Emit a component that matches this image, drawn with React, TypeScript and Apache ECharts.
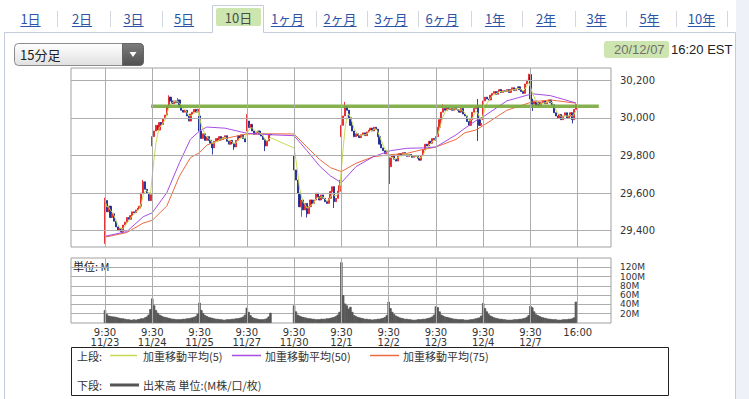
import React, { useEffect, useRef } from 'react';
import * as echarts from 'echarts';

// ---------------- data ----------------
const dayLabels = ['11/23', '11/24', '11/25', '11/27', '11/30', '12/1', '12/2', '12/3', '12/4', '12/7'];
const openTimeLabel = '9:30';
const closeTimeLabel = '16:00';
const slotsPerDay = 26;

const dayOpens = [29345, 29850, 30010, 29930, 29800, 29900, 29650, 29880, 29990, 30230];

const close1123 = [29560, 29500, 29530, 29470, 29490, 29450, 29420, 29400, 29410, 29395, 29430, 29445, 29470, 29460, 29480, 29500, 29495, 29510, 29520, 29530, 29600, 29660, 29620, 29600, 29560, 29591];
const close1124 = [29900, 29930, 29960, 29935, 29975, 29965, 29995, 30015, 30063, 30110, 30090, 30075, 30090, 30080, 30095, 30060, 30040, 30030, 30040, 30010, 29983, 30020, 30030, 30045, 30030, 30046];
const close1125 = [29930, 29890, 29915, 29880, 29900, 29880, 29865, 29840, 29875, 29890, 29880, 29900, 29885, 29895, 29905, 29875, 29860, 29880, 29865, 29845, 29880, 29905, 29895, 29910, 29890, 29872];
const close1127 = [29983, 29948, 29965, 29930, 29912, 29921, 29930, 29912, 29903, 29885, 29850, 29877, 29912, 29910];
const close1130 = [29723, 29669, 29599, 29527, 29563, 29510, 29545, 29490, 29527, 29563, 29545, 29563, 29599, 29580, 29563, 29590, 29572, 29554, 29545, 29572, 29608, 29634, 29554, 29572, 29610, 29639];
const close1201 = [29960, 30010, 30060, 30040, 30000, 29960, 29930, 29900, 29915, 29905, 29895, 29910, 29920, 29905, 29925, 29935, 29945, 29930, 29950, 29940, 29900, 29860, 29840, 29825, 29810, 29824];
const close1202 = [29740, 29790, 29800, 29780, 29770, 29805, 29810, 29800, 29815, 29805, 29795, 29805, 29800, 29790, 29800, 29795, 29785, 29775, 29800, 29830, 29860, 29850, 29875, 29865, 29890, 29884];
const close1203 = [29900, 29950, 29990, 30030, 30050, 30040, 30055, 30045, 30050, 30040, 30055, 30045, 30040, 30030, 30050, 30020, 30010, 29980, 29960, 29990, 30030, 30050, 30060, 29990, 29960, 29970];
const close1204 = [30090, 30110, 30100, 30095, 30120, 30130, 30140, 30125, 30140, 30150, 30135, 30145, 30140, 30150, 30135, 30150, 30160, 30145, 30155, 30165, 30150, 30140, 30130, 30180, 30200, 30218];
const close1207 = [30100, 30072, 30090, 30063, 30080, 30065, 30080, 30090, 30075, 30085, 30095, 30080, 30070, 30027, 30010, 30000, 30018, 29990, 30010, 30027, 30000, 30010, 30027, 29990, 30045, 30070];
const closesByDay = [close1123, close1124, close1125, close1127, close1130, close1201, close1202, close1203, close1204, close1207];

// [day, bar, value] long wicks
const wickHighs = [[0, 0, 29575], [0, 21, 29670], [1, 9, 30120], [1, 14, 30105], [3, 0, 30019], [4, 25, 29670], [5, 2, 30085], [7, 4, 30072], [7, 23, 30100], [8, 25, 30235], [9, 0, 30240]];
const wickLows = [[0, 0, 29330], [0, 9, 29385], [2, 7, 29805], [2, 19, 29830], [3, 10, 29823], [4, 4, 29474], [4, 7, 29470], [4, 22, 29520], [6, 0, 29600], [7, 23, 29877], [9, 1, 30036], [9, 23, 29970]];

// weighted moving averages 50 / 75 (slot, value)
const maSlots = [0, 12, 21, 26, 34, 41, 47, 52, 56, 66, 78, 91, 104, 111, 118, 124, 130, 138, 147.5, 157, 166, 175, 182, 193, 198, 204, 209, 221, 235, 245, 259];
const ma50Values = [29370, 29395, 29474, 29495, 29602, 29762, 29886, 29930, 29951, 29945, 29918, 29910, 29905, 29826, 29744, 29691, 29655, 29740, 29793, 29825, 29838, 29840, 29845, 29909, 29945, 29985, 30012, 30090, 30128, 30118, 30079];
const ma75Values = [29365, 29390, 29440, 29455, 29531, 29691, 29788, 29815, 29855, 29890, 29914, 29915, 29914, 29845, 29779, 29735, 29714, 29758, 29793, 29804, 29811, 29832, 29845, 29885, 29921, 29935, 29965, 30040, 30085, 30095, 30078];

// horizontal reference line
const refLevel = 30062;
const refFromSlot = 25.3;
const refToSlot = 271.6;

// volume (M)
const vol1123 = [28, 19, 16, 15, 14, 14, 13, 12, 11, 10, 10, 9, 8, 8, 7, 7, 8, 7, 8, 9, 10, 10, 12, 14, 18, 30];
const vol1124 = [53, 38, 28, 22, 18, 16, 14, 13, 12, 11, 10, 9, 9, 8, 8, 8, 8, 9, 9, 10, 10, 11, 12, 13, 15, 20];
const vol1125 = [44, 28, 21, 17, 15, 13, 12, 11, 10, 9, 9, 8, 8, 7, 7, 8, 8, 8, 9, 9, 10, 10, 11, 12, 14, 18];
const vol1127 = [33, 24, 17, 13, 11, 10, 9, 8, 8, 8, 9, 10, 14, 22];
const vol1130 = [38, 25, 18, 16, 14, 13, 12, 11, 10, 10, 9, 9, 8, 8, 8, 9, 9, 9, 10, 10, 11, 12, 13, 15, 18, 24];
const vol1201 = [131, 60, 42, 38, 31, 35, 24, 17, 15, 13, 12, 11, 10, 9, 9, 8, 8, 7, 8, 8, 9, 9, 10, 11, 13, 17];
const vol1202 = [46, 32, 24, 19, 16, 14, 12, 11, 10, 9, 9, 8, 8, 7, 7, 7, 8, 8, 8, 9, 9, 10, 11, 12, 14, 18];
const vol1203 = [36, 34, 25, 18, 16, 14, 13, 12, 11, 10, 9, 9, 8, 8, 8, 8, 7, 7, 7, 8, 8, 9, 10, 11, 12, 16];
const vol1204 = [43, 32, 25, 19, 16, 14, 12, 11, 10, 9, 9, 8, 8, 7, 7, 7, 7, 8, 8, 8, 9, 9, 10, 11, 13, 17];
const vol1207 = [37, 34, 25, 19, 17, 15, 13, 12, 11, 10, 9, 9, 8, 8, 8, 7, 7, 7, 8, 8, 8, 9, 9, 10, 12, 46];
const volumesByDay = [vol1123, vol1124, vol1125, vol1127, vol1130, vol1201, vol1202, vol1203, vol1204, vol1207];

const priceTicks = [29400, 29600, 29800, 30000, 30200];
const volumeTicks = [20, 40, 60, 80, 100, 120];

const tabs = ['1日', '2日', '3日', '5日', '10日', '1ヶ月', '2ヶ月', '3ヶ月', '6ヶ月', '1年', '2年', '3年', '5年', '10年'];
const selectedTab = '10日';
const intervalLabel = '15分足';
const stampDate = '20/12/07';
const stampTime = '16:20 EST';
const volumeUnitLabel = '単位: M';
const legendUpperTitle = '上段:';
const legendLowerTitle = '下段:';
const maLegend = ['加重移動平均(5)', '加重移動平均(50)', '加重移動平均(75)'];
const volumeLegend = '出来高 単位:(M株/口/枚)';

// ---------------- build ----------------
const daySlots = dayLabels.map((_, d) => d * slotsPerDay).concat([dayLabels.length * slotsPerDay]);

function buildCandles() {
  const out: number[][] = [];
  const closesFlat: number[] = [];
  const slotsFlat: number[] = [];
  closesByDay.forEach((closes, d) => {
    closes.forEach((c, i) => {
      const o = i === 0 ? dayOpens[d] : closes[i - 1];
      let lo = Math.min(o, c);
      let hi = Math.max(o, c);
      wickHighs.forEach(([wd, wi, v]) => { if (wd === d && wi === i) hi = Math.max(hi, v); });
      wickLows.forEach(([wd, wi, v]) => { if (wd === d && wi === i) lo = Math.min(lo, v); });
      const u = d * slotsPerDay + i;
      out.push([u, o, c, lo, hi]);
      closesFlat.push(c);
      slotsFlat.push(u);
    });
  });
  return { out, closesFlat, slotsFlat };
}

function wma(values: number[], n: number) {
  return values.map((_, i) => {
    let num = 0;
    let den = 0;
    for (let k = 0; k < n && i - k >= 0; k++) {
      const w = n - k;
      num += w * values[i - k];
      den += w;
    }
    return num / den;
  });
}

const CJK = '"Noto Sans CJK JP", "Noto Sans", sans-serif';

function txt(x: number, y: number, text: string, fs: number, fill: string, align = 'left', family = CJK) {
  return {
    type: 'text', x, y, silent: true,
    style: { text, fill, font: `${fs}px ${family}`, align, verticalAlign: 'middle', textAlign: align, textVerticalAlign: 'middle' },
  };
}

function textWidth(s: string, fs: number) {
  let w = 0;
  for (const ch of s) w += ch.charCodeAt(0) < 128 ? fs * 0.56 : fs;
  return w;
}

export default function App() {
  const ref = useRef<HTMLDivElement>(null);

  useEffect(() => {
    document.body.style.margin = '0';
    if (!ref.current) return;
    const chart = echarts.init(ref.current, undefined, { renderer: 'svg' });

    const { out: candles, closesFlat, slotsFlat } = buildCandles();
    const w5 = wma(closesFlat, 5);
    const wma5Data = slotsFlat.map((u, i) => [u, w5[i]]);
    const ma50Data = maSlots.map((u, i) => [u, ma50Values[i]]);
    const ma75Data = maSlots.map((u, i) => [u, ma75Values[i]]);
    const volData: number[][] = [];
    volumesByDay.forEach((vols, d) => vols.forEach((v, i) => volData.push([d * slotsPerDay + i, v])));

    const X_MIN = -18.7;
    const X_MAX = 278.3;
    const gridColor = '#adadad';

    const tabCenters = [30.5, 82, 133.5, 184, 238.5, 287.5, 340, 391, 442, 495, 546, 596.5, 649.5, 701.5];
    const separators = [57, 110, 162, 316, 367, 418, 471, 522, 575, 626, 676, 727];

    const graphics: any[] = [];
    graphics.push({ type: 'rect', silent: true, shape: { x: 736, y: 0, width: 13, height: 399 }, style: { fill: '#eef1f7' } });
    graphics.push({
      type: 'polyline', silent: true,
      shape: { points: [[4.5, 399], [4.5, 32.5], [212.5, 32.5], [212.5, 5.5], [263.5, 5.5], [263.5, 32.5], [735.5, 32.5], [735.5, 399]] },
      style: { stroke: '#c3ccd8', lineWidth: 1, fill: null },
    });
    graphics.push({ type: 'rect', silent: true, shape: { x: 216, y: 8, width: 45, height: 18, r: 2 }, style: { fill: '#cde5ae' } });
    tabs.forEach((t, i) => {
      const cx = tabCenters[i];
      if (t === selectedTab) {
        graphics.push(txt(cx, 17.5, t, 13, '#4a4a4a', 'center'));
      } else {
        graphics.push(txt(cx, 18.5, t, 13, '#2c55a8', 'center'));
        const w = textWidth(t, 13);
        graphics.push({ type: 'line', silent: true, shape: { x1: cx - w / 2, y1: 26.5, x2: cx + w / 2, y2: 26.5 }, style: { stroke: '#2c55a8', lineWidth: 1 } });
      }
    });
    separators.forEach((x) => graphics.push({ type: 'line', silent: true, shape: { x1: x + 0.5, y1: 11, x2: x + 0.5, y2: 27 }, style: { stroke: '#d3d8e0', lineWidth: 1 } }));

    // dropdown
    graphics.push({
      type: 'rect', silent: true, shape: { x: 14.5, y: 43.5, width: 129, height: 22, r: 4 },
      style: { fill: new echarts.graphic.LinearGradient(0, 0, 0, 1, [{ offset: 0, color: '#ffffff' }, { offset: 1, color: '#e0e0e0' }]), stroke: '#8c8c8c', lineWidth: 1 },
    });
    graphics.push({
      type: 'rect', silent: true, shape: { x: 122.5, y: 43.5, width: 21, height: 22, r: [0, 4, 4, 0] },
      style: { fill: new echarts.graphic.LinearGradient(0, 0, 0, 1, [{ offset: 0, color: '#7d7d7d' }, { offset: 1, color: '#505050' }]), stroke: '#666', lineWidth: 1 },
    });
    graphics.push({ type: 'polygon', silent: true, shape: { points: [[129.5, 52], [136.5, 52], [133, 57]] }, style: { fill: '#ffffff' } });
    graphics.push(txt(20, 54.5, intervalLabel, 13, '#222'));

    // date stamp
    graphics.push({ type: 'rect', silent: true, shape: { x: 604, y: 41, width: 65, height: 17, r: 3 }, style: { fill: '#cde5ae' } });
    graphics.push(txt(614, 49.5, stampDate, 13, '#707070', 'left', '"Liberation Sans", Arial, sans-serif'));
    graphics.push(txt(671, 49.5, stampTime, 13, '#222', 'left', '"Liberation Sans", Arial, sans-serif'));

    // volume unit
    graphics.push(txt(73, 266, volumeUnitLabel, 11, '#222'));

    // legend box
    graphics.push({ type: 'rect', silent: true, shape: { x: 71.5, y: 347.5, width: 597, height: 48 }, style: { fill: '#fff', stroke: '#222', lineWidth: 1 } });
    const r1 = 355.5;
    const r2 = 385;
    graphics.push(txt(77, r1, legendUpperTitle, 11, '#333'));
    graphics.push({ type: 'line', silent: true, shape: { x1: 110, y1: r1, x2: 137, y2: r1 }, style: { stroke: '#c8da55', lineWidth: 1.5 } });
    graphics.push(txt(143, r1, maLegend[0], 11, '#333'));
    graphics.push({ type: 'line', silent: true, shape: { x1: 232, y1: r1, x2: 261, y2: r1 }, style: { stroke: '#a64de6', lineWidth: 1.5 } });
    graphics.push(txt(265, r1, maLegend[1], 11, '#333'));
    graphics.push({ type: 'line', silent: true, shape: { x1: 370, y1: r1, x2: 399, y2: r1 }, style: { stroke: '#ec6a3f', lineWidth: 1.5 } });
    graphics.push(txt(403, r1, maLegend[2], 11, '#333'));
    graphics.push(txt(77, r2, legendLowerTitle, 11, '#333'));
    graphics.push({ type: 'line', silent: true, shape: { x1: 110, y1: r2, x2: 139, y2: r2 }, style: { stroke: '#555', lineWidth: 3 } });
    graphics.push(txt(143, r2, volumeLegend, 11, '#333'));

    const gridMark = (data: any[]) => ({
      silent: true,
      symbol: ['none', 'none'],
      label: { show: false },
      emphasis: { disabled: true },
      lineStyle: { color: gridColor, width: 1, type: 'solid' },
      data,
    });

    const labelFont = { fontFamily: '"DejaVu Sans", sans-serif', fontSize: 10, color: '#333' };

    const option: any = {
      animation: false,
      backgroundColor: '#ffffff',
      tooltip: { show: false },
      grid: [
        { left: 71, top: 68, width: 540, height: 179, show: true, borderColor: '#a0a0a0', borderWidth: 1, backgroundColor: 'transparent' },
        { left: 71, top: 258, width: 540, height: 65, show: true, borderColor: '#a0a0a0', borderWidth: 1, backgroundColor: 'transparent' },
      ],
      xAxis: [
        { type: 'value', gridIndex: 0, min: X_MIN, max: X_MAX, axisLine: { show: false }, axisTick: { show: false }, axisLabel: { show: false }, splitLine: { show: false } },
        {
          type: 'value', gridIndex: 1, min: X_MIN, max: X_MAX,
          axisLine: { show: false }, axisTick: { show: false }, splitLine: { show: false },
          axisLabel: {
            customValues: daySlots,
            ...labelFont,
            fontSize: 10,
            lineHeight: 10.5,
            margin: 4,
            hideOverlap: false,
            formatter: (v: number) => {
              const d = Math.round(v / slotsPerDay);
              if (d >= dayLabels.length) return closeTimeLabel;
              return `${openTimeLabel}\n${dayLabels[d]}`;
            },
          },
        },
      ],
      yAxis: [
        {
          type: 'value', gridIndex: 0, position: 'right', min: 29313, max: 30265,
          axisLine: { show: false },
          axisTick: { show: true, customValues: priceTicks, length: 6, lineStyle: { color: '#a0a0a0' } },
          axisLabel: { customValues: priceTicks, ...labelFont, margin: 9, hideOverlap: false, formatter: (v: number) => v.toLocaleString('en-US') },
          splitLine: { show: false },
        },
        {
          type: 'value', gridIndex: 1, position: 'right', min: 0, max: 140, interval: 20,
          axisLine: { show: false },
          axisTick: { show: true, customValues: volumeTicks, length: 6, lineStyle: { color: '#a0a0a0' } },
          axisLabel: {
            customValues: volumeTicks, ...labelFont, fontSize: 9, lineHeight: 9, margin: 9,
            hideOverlap: false, showMinLabel: true, showMaxLabel: true,
            formatter: (v: number) => `${v}M`,
          },
          splitLine: { show: true, lineStyle: { color: gridColor, width: 1 } },
        },
      ],
      series: [
        {
          type: 'line', xAxisIndex: 0, yAxisIndex: 0, z: 0, silent: true, symbol: 'none',
          data: [[0, 29400]], lineStyle: { opacity: 0 },
          markLine: gridMark([...priceTicks.map((v) => ({ yAxis: v })), ...daySlots.map((u) => ({ xAxis: u }))]),
        },
        {
          type: 'line', xAxisIndex: 1, yAxisIndex: 1, z: 0, silent: true, symbol: 'none',
          data: [[0, 0]], lineStyle: { opacity: 0 },
          markLine: gridMark(daySlots.map((u) => ({ xAxis: u }))),
        },
        {
          type: 'candlestick', xAxisIndex: 0, yAxisIndex: 0, z: 2,
          data: candles, encode: { x: 0, y: [1, 2, 3, 4] },
          barWidth: 1.6,
          emphasis: { disabled: true },
          itemStyle: { color: '#e4262c', color0: '#1d2c92', borderColor: '#e4262c', borderColor0: '#1d2c92', borderWidth: 0.9 },
        },
        {
          type: 'line', xAxisIndex: 0, yAxisIndex: 0, z: 3, symbol: 'none', silent: true,
          data: ma75Data, lineStyle: { color: '#ec6a3f', width: 1 },
        },
        {
          type: 'line', xAxisIndex: 0, yAxisIndex: 0, z: 3, symbol: 'none', silent: true,
          data: ma50Data, lineStyle: { color: '#a64de6', width: 1 },
        },
        {
          type: 'line', xAxisIndex: 0, yAxisIndex: 0, z: 3, symbol: 'none', silent: true,
          data: wma5Data, lineStyle: { color: '#c8da55', width: 1 },
        },
        {
          type: 'line', xAxisIndex: 0, yAxisIndex: 0, z: 4, symbol: 'none', silent: true,
          data: [[refFromSlot, refLevel], [refToSlot, refLevel]],
          lineStyle: { color: '#78a83c', width: 3.5, opacity: 0.9 },
        },
        {
          type: 'bar', xAxisIndex: 1, yAxisIndex: 1, z: 2, silent: true,
          data: volData, barWidth: 2.4,
          itemStyle: { color: '#555555', borderColor: '#555555', borderWidth: 0.8 },
          emphasis: { disabled: true },
        },
      ],
      graphic: graphics,
    };

    chart.setOption(option);
    return () => chart.dispose();
  }, []);

  return (
    <div style={{ position: 'fixed', left: 0, top: 0, width: 749, height: 399, background: '#fff' }}>
      <div ref={ref} style={{ width: 749, height: 399 }} />
    </div>
  );
}
